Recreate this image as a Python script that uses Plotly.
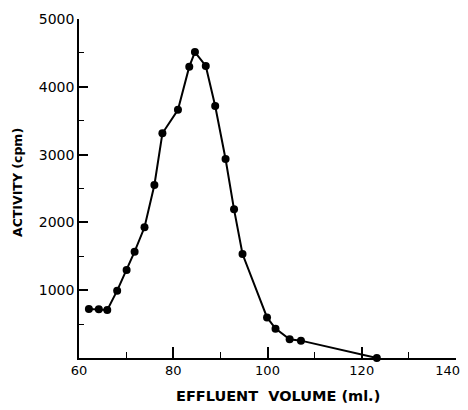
import plotly.graph_objects as go

volume_ml = [62.1, 64.2, 66.0, 68.1, 70.1, 71.8, 73.9, 76.0, 77.7, 81.0, 83.4, 84.6,
             86.9, 88.9, 91.1, 92.9, 94.7, 99.9, 101.7, 104.7, 107.1, 123.2]
activity_cpm = [723, 718, 708, 993, 1298, 1568, 1928, 2552, 3314, 3660, 4297, 4513,
                4307, 3717, 2935, 2193, 1534, 598, 433, 276, 256, 0]

x_ticks = [60, 80, 100, 120, 140]
x_ticktext = ["60", "80", "100", "120", "140\u00a0\u00a0\u00a0\u00a0"]
y_ticks = [1000, 2000, 3000, 4000, 5000]

font_family = "DejaVu Sans"

# the page body adds an 8px offset; size the figure so the plot lands in place
OFF = 8
W, H = 460, 402
L, R, T, B = 79, 456, 19, 358  # target plot-area pixel box in the window

fig = go.Figure()
fig.add_trace(go.Scatter(
    x=volume_ml, y=activity_cpm, mode="lines+markers",
    line=dict(color="black", width=2),
    marker=dict(color="black", size=8),
    cliponaxis=False, showlegend=False,
))

fig.update_layout(
    width=W, height=H,
    margin=dict(l=L - OFF, r=W + OFF - R, t=T - OFF, b=H + OFF - B, autoexpand=False),
    paper_bgcolor="white", plot_bgcolor="white",
    font=dict(family=font_family, color="black", size=14),
    xaxis=dict(
        range=[60, 140], tickvals=x_ticks, ticktext=x_ticktext,
        showgrid=False, zeroline=False, showline=True, linecolor="black", linewidth=1.5,
        ticks="inside", ticklen=11, tickwidth=1.5, tickcolor="black",
        minor=dict(dtick=10, ticks="inside", ticklen=6, tickwidth=1, tickcolor="black"),
        tickfont=dict(size=13, family=font_family),
        ticklabeloverflow="allow",
    ),
    yaxis=dict(
        range=[0, 5000], tickvals=y_ticks, ticktext=[str(v) for v in y_ticks],
        showgrid=False, zeroline=False, showline=True, linecolor="black", linewidth=1.5,
        ticks="inside", ticklen=9, tickwidth=1.5, tickcolor="black",
        minor=dict(tickvals=[500, 1500, 2500, 3500, 4500], ticks="inside", ticklen=5,
                   tickwidth=1, tickcolor="black"),
        tickfont=dict(size=14, family=font_family),
    ),
)

pw = R - L
ph = B - T
fig.add_annotation(text="<b>EFFLUENT  VOLUME (ml.)</b>", showarrow=False,
                   x=(278 - L) / pw, y=(B - 396) / ph, xref="paper", yref="paper",
                   xanchor="center", yanchor="middle",
                   font=dict(size=14.5, family=font_family))
fig.add_annotation(text="<b>ACTIVITY (cpm)</b>", textangle=-90, showarrow=False,
                   x=(17 - L) / pw, y=(B - 183) / ph, xref="paper", yref="paper",
                   xanchor="center", yanchor="middle",
                   font=dict(size=12.5, family=font_family))

fig.write_html("out.html")
